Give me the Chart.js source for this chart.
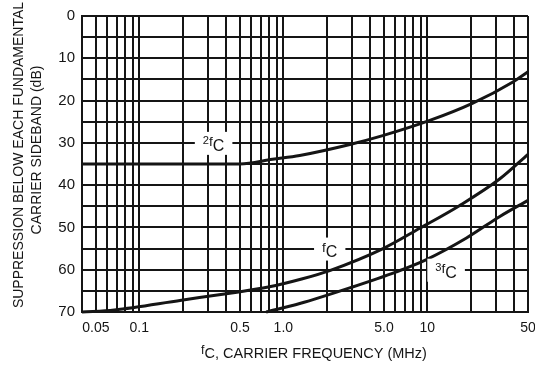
<!DOCTYPE html>
<html>
<head>
<meta charset="utf-8">
<script src="https://cdn.jsdelivr.net/npm/chart.js@4/dist/chart.umd.min.js"></script>
<style>
  html, body { margin: 0; padding: 0; background: #ffffff; }
  #wrap { width: 535px; height: 366px; position: relative; }
</style>
</head>
<body>
<div id="wrap"><canvas id="chart" width="535" height="366"></canvas></div>
<script>
// Sideband suppression (dB below each fundamental carrier sideband) vs. carrier frequency (MHz)
const freqFc  = [0.04, 0.067, 0.196, 0.437, 0.786, 1.34, 2.1, 4.93, 8.86, 16.8, 31.9, 50];
const suppFc  = [70, 69.5, 67.2, 65.5, 64.1, 62.2, 60.2, 55.0, 50.2, 44.8, 38.5, 32.7];

const freq2Fc = [0.04, 0.1, 0.2, 0.5, 0.84, 1.3, 2.9, 4.9, 10.4, 20.7, 39.3, 50];
const supp2Fc = [35, 35, 35, 35, 33.9, 33.0, 30.4, 28.3, 24.7, 20.6, 15.6, 13.2];

const freq3Fc = [0.76, 1.3, 2.89, 6.1, 9.86, 18.7, 31.9, 50];
const supp3Fc = [70, 68.0, 64.3, 60.5, 57.6, 52.5, 47.4, 43.6];

// Axis labels
const xTickValues = [0.05, 0.1, 0.5, 1, 5, 10, 50];
const xTickLabels = ["0.05", "0.1", "0.5", "1.0", "5.0", "10", "50"];
const yTickValues = [0, 10, 20, 30, 40, 50, 60, 70];
const yTitleLines = ["SUPPRESSION BELOW EACH FUNDAMENTAL", "CARRIER SIDEBAND (dB)"];
const xTitleText = ", CARRIER FREQUENCY (MHz)";

// Curve name tags: harmonic prefix, anchor in data coordinates
const curveTags = [
  { prefix: "2", freq: 0.328, supp: 30 },
  { prefix: "",  freq: 2.1,   supp: 55 },
  { prefix: "3", freq: 13.5,  supp: 60 }
];

const FAMILY = '"Liberation Sans", Arial, Helvetica, sans-serif';
const INK = "#151515";

// Log grid: 1..9 per decade between the axis limits
const X_MIN = 0.04, X_MAX = 50;
const xGrid = [];
for (let e = -2; e <= 1; e++) {
  for (let m = 1; m <= 9; m++) {
    const v = parseFloat((m * Math.pow(10, e)).toPrecision(3));
    if (v >= X_MIN - 1e-9 && v <= X_MAX + 1e-9) xGrid.push(v);
  }
}

function toPoints(xs, ys) { return xs.map((x, i) => ({ x: x, y: ys[i] })); }

// "f" with subscript "C", optional harmonic prefix, optional trailing text
function fcWidth(ctx, prefix, s, tail, tailSize) {
  let w = 0;
  if (prefix) { ctx.font = `${0.7 * s}px ${FAMILY}`; w += ctx.measureText(prefix).width; }
  ctx.font = `${0.85 * s}px ${FAMILY}`; w += ctx.measureText("f").width;
  ctx.font = `${s}px ${FAMILY}`; w += ctx.measureText("C").width;
  if (tail) { ctx.font = `${tailSize}px ${FAMILY}`; w += ctx.measureText(tail).width; }
  return w;
}
function drawFc(ctx, x, base, prefix, s, tail, tailSize) {
  ctx.textAlign = "left";
  ctx.textBaseline = "alphabetic";
  if (prefix) {
    ctx.font = `${0.7 * s}px ${FAMILY}`;
    ctx.fillText(prefix, x, base - 0.42 * s);
    x += ctx.measureText(prefix).width;
  }
  ctx.font = `${0.85 * s}px ${FAMILY}`;
  ctx.fillText("f", x, base - 0.3 * s);
  x += ctx.measureText("f").width;
  ctx.font = `${s}px ${FAMILY}`;
  ctx.fillText("C", x, base);
  x += ctx.measureText("C").width;
  if (tail) {
    ctx.font = `${tailSize}px ${FAMILY}`;
    ctx.fillText(tail, x, base);
  }
}

const textPlugin = {
  id: "sidebandText",
  afterDatasetsDraw(chart) {
    const ctx = chart.ctx;
    const xs = chart.scales.x, ys = chart.scales.y;
    ctx.save();
    ctx.fillStyle = INK;
    // curve tags on a white patch that interrupts the grid
    const s = 16;
    curveTags.forEach(t => {
      const cx = xs.getPixelForValue(t.freq);
      const cy = ys.getPixelForValue(t.supp);
      const w = fcWidth(ctx, t.prefix, s);
      ctx.fillStyle = "#ffffff";
      ctx.fillRect(cx - w / 2 - 8, cy - 11, w + 16, 23);
      ctx.fillStyle = INK;
      drawFc(ctx, cx - w / 2, cy + 8, t.prefix, s);
    });
    ctx.restore();
  },
  afterDraw(chart) {
    const ctx = chart.ctx;
    ctx.save();
    ctx.fillStyle = INK;
    // y-axis title, two rotated lines
    ctx.textAlign = "center";
    ctx.textBaseline = "middle";
    ctx.font = `14px ${FAMILY}`;
    [[19, 155], [37, 150]].forEach((p, i) => {
      ctx.save();
      ctx.translate(p[0], p[1]);
      ctx.rotate(-Math.PI / 2);
      ctx.fillText(yTitleLines[i], 0, 0);
      ctx.restore();
    });
    // x-axis title
    const ts = 14.5;
    const w = fcWidth(ctx, "", ts, xTitleText, ts);
    drawFc(ctx, 314 - w / 2, 358, "", ts, xTitleText, ts);
    ctx.restore();
  }
};

const lineStyle = {
  borderColor: INK,
  borderWidth: 3,
  pointRadius: 0,
  fill: false,
  cubicInterpolationMode: "monotone",
  clip: 3
};

new Chart(document.getElementById("chart"), {
  type: "line",
  data: {
    datasets: [
      Object.assign({ label: "fC", data: toPoints(freqFc, suppFc) }, lineStyle),
      Object.assign({ label: "2fC", data: toPoints(freq2Fc, supp2Fc) }, lineStyle),
      Object.assign({ label: "3fC", data: toPoints(freq3Fc, supp3Fc) }, lineStyle)
    ]
  },
  options: {
    responsive: false,
    animation: false,
    devicePixelRatio: 1,
    layout: { padding: { top: 13, right: 0, left: 0, bottom: 0 } },
    plugins: { legend: { display: false }, tooltip: { enabled: false } },
    scales: {
      x: {
        type: "logarithmic",
        min: X_MIN,
        max: X_MAX,
        afterBuildTicks: (scale) => { scale.ticks = xGrid.map(v => ({ value: v })); },
        afterFit: (scale) => {
          scale.height = 54;
          scale.paddingLeft = 0;
          scale.paddingRight = 7;
        },
        grid: { color: INK, lineWidth: 2, drawTicks: false },
        border: { color: INK, width: 2 },
        ticks: {
          autoSkip: false,
          maxRotation: 0,
          minRotation: 0,
          padding: 8,
          color: INK,
          font: { family: FAMILY, size: 14 },
          callback: (v) => {
            const i = xTickValues.findIndex(t => Math.abs(t - v) / t < 1e-6);
            return i >= 0 ? xTickLabels[i] : "";
          }
        }
      },
      y: {
        type: "linear",
        reverse: true,
        min: 0,
        max: 70,
        afterFit: (scale) => { scale.width = 82; },
        grid: { color: INK, lineWidth: 2, drawTicks: false },
        border: { color: INK, width: 2 },
        ticks: {
          stepSize: 5,
          padding: 7,
          color: INK,
          font: { family: FAMILY, size: 15 },
          callback: (v) => yTickValues.includes(v) ? String(v) : ""
        }
      }
    }
  },
  plugins: [textPlugin]
});
</script>
</body>
</html>
